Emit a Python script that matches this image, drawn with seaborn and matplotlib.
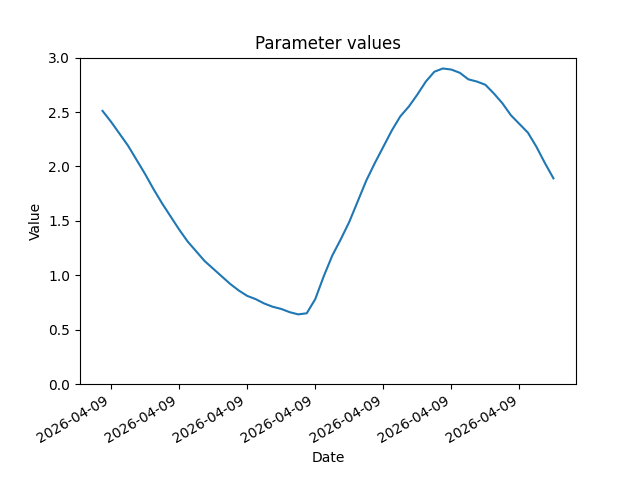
import pandas as pd
import matplotlib.pyplot as plt
import matplotlib.dates as mdates
import seaborn as sns

start = "2026-04-09 03:45"
values = [2.51, 2.41, 2.30, 2.19, 2.06, 1.93, 1.79, 1.66, 1.54, 1.42,
          1.31, 1.22, 1.13, 1.06, 0.99, 0.92, 0.86, 0.81, 0.78, 0.74,
          0.71, 0.69, 0.66, 0.64, 0.65, 0.78, 0.99, 1.18, 1.33, 1.49,
          1.68, 1.87, 2.03, 2.18, 2.33, 2.46, 2.55, 2.66, 2.78, 2.87,
          2.90, 2.89, 2.86, 2.80, 2.78, 2.75, 2.67, 2.58, 2.47, 2.39,
          2.31, 2.18, 2.03, 1.89]
dates = pd.date_range(start, periods=len(values), freq="15min")

df = pd.DataFrame({"Date": dates, "Value": values})

fig, ax = plt.subplots(figsize=(6.4, 4.8), dpi=100)
sns.lineplot(data=df, x="Date", y="Value", ax=ax)
ax.set_title("Parameter values")
ax.set_ylim(0, 3)
ax.xaxis.set_major_formatter(mdates.DateFormatter("%Y-%m-%d"))
fig.autofmt_xdate()
fig.savefig("out.png")
